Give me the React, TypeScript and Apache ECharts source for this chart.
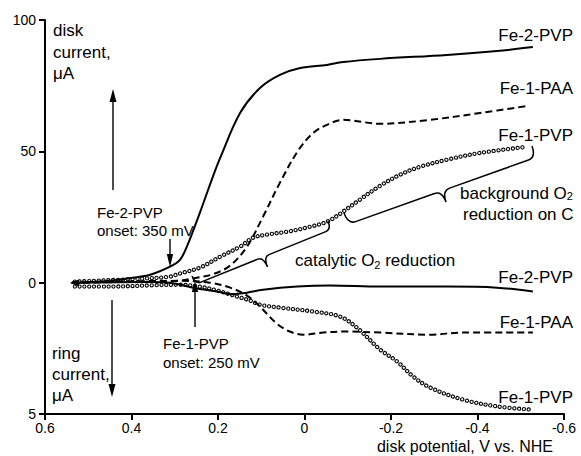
import React, { useEffect, useRef } from "react";
import * as echarts from "echarts";

// ---- Data (potential in V vs. NHE, current in μA) ----
// Disk currents
const fe2pvpDiskV = [0.538, 0.473, 0.397, 0.357, 0.311, 0.288, 0.272, 0.242, 0.212, 0.195, 0.149, 0.103, 0.057, 0.010, -0.052, -0.089, -0.175, -0.329, -0.445, -0.528];
const fe2pvpDiskI = [0, 0.4, 1.9, 3.0, 6.1, 8.7, 13.7, 26.6, 40.3, 47.5, 64.6, 74.1, 79.1, 81.7, 82.9, 84.0, 85.2, 86.7, 88.2, 89.7];

const fe1paaDiskV = [0.538, 0.40, 0.30, 0.249, 0.212, 0.172, 0.133, 0.096, 0.057, 0.015, -0.020, -0.052, -0.089, -0.175, -0.290, -0.406, -0.517];
const fe1paaDiskI = [0, 0.3, 0.6, 1.9, 3.2, 6.5, 13.7, 25.1, 38.0, 50.2, 57.0, 60.1, 62.0, 60.5, 62.0, 64.6, 67.3];

const fe1pvpDiskV = [0.531, 0.380, 0.311, 0.288, 0.242, 0.195, 0.149, 0.119, 0.087, 0.040, -0.013, -0.052, -0.089, -0.128, -0.175, -0.221, -0.267, -0.329, -0.406, -0.514];
const fe1pvpDiskI = [0.4, 1.5, 2.3, 3.5, 5.7, 9.9, 13.7, 17.1, 18.3, 19.4, 21.3, 23.2, 27.0, 31.6, 36.9, 41.1, 44.1, 46.8, 49.4, 51.7];

// Ring currents (μA, plotted downward on the 0..5 μA ring scale)
const fe2pvpRingV = [0.538, 0.357, 0.311, 0.258, 0.202, 0.165, 0.133, 0.096, 0.017, -0.059, -0.175, -0.329, -0.445, -0.528];
const fe2pvpRingI = [0, -0.03, 0, 0.19, 0.34, 0.44, 0.38, 0.27, 0.15, 0.11, 0.15, 0.15, 0.19, 0.34];

const fe1paaRingV = [0.538, 0.281, 0.219, 0.172, 0.133, 0.103, 0.064, 0.034, 0.003, -0.043, -0.098, -0.175, -0.290, -0.366, -0.528];
const fe1paaRingI = [0, -0.07, 0, 0.19, 0.49, 0.91, 1.56, 1.86, 1.98, 1.90, 1.86, 1.90, 1.98, 1.90, 1.90];

const fe1pvpRingV = [0.531, 0.450, 0.350, 0.288, 0.242, 0.202, 0.156, 0.126, 0.103, 0.057, -0.020, -0.082, -0.121, -0.175, -0.214, -0.251, -0.290, -0.366, -0.445, -0.521];
const fe1pvpRingI = [0.15, 0.15, 0.10, 0.08, 0.15, 0.30, 0.53, 0.68, 0.84, 0.95, 1.10, 1.29, 1.71, 2.55, 3.00, 3.57, 3.99, 4.45, 4.71, 4.83];

// Axis ticks
const xTickValues = [0.6, 0.4, 0.2, 0, -0.2, -0.4, -0.6];
const xTickLabels = ["0.6", "0.4", "0.2", "0", "-0.2", "-0.4", "-0.6"];
const yTickValues = [100, 50, 0, -50];
const yTickLabels = ["100", "50", "0", "5"];
const RING_SCALE = -10; // 5 μA ring current sits at the "-50" disk position

const FONT = '"Liberation Sans", Arial, Helvetica, sans-serif';

function pairs(v: number[], i: number[], k = 1) {
  return v.map((x, j) => [x, i[j] * k]);
}

function bracePath(ax: number, ay: number, bx: number, by: number, h: number, D: number, r: number) {
  const dx = bx - ax, dy = by - ay;
  const L = Math.hypot(dx, dy);
  const ux = dx / L, uy = dy / L;
  const nx = -uy, ny = ux;
  const P = (u: number, w: number) => `${(ax + u * ux + w * nx).toFixed(2)} ${(ay + u * uy + w * ny).toFixed(2)}`;
  const m = L / 2;
  return (
    `M ${P(0, 0)} Q ${P(0, h)} ${P(r, h)} L ${P(m - r, h)} Q ${P(m, h)} ${P(m, D)} ` +
    `M ${P(m, D)} Q ${P(m, h)} ${P(m + r, h)} L ${P(L - r, h)} Q ${P(L, h)} ${P(L, 0)}`
  );
}

function vArrow(x: number, tail: number, tip: number, head: number, half: number, lw: number) {
  const s = tip > tail ? 1 : -1;
  return [
    { type: "line", silent: true, z: 10, shape: { x1: x, y1: tail, x2: x, y2: tip - s * head * 0.6 }, style: { stroke: "#000", lineWidth: lw } },
    { type: "polygon", silent: true, z: 10, shape: { points: [[x, tip], [x - half, tip - s * head], [x + half, tip - s * head]] }, style: { fill: "#000" } },
  ];
}

function txt(text: string, x: number, y: number, size: number, align = "left", rich?: any) {
  return {
    type: "text",
    silent: true,
    z: 10,
    x,
    y,
    style: {
      text,
      fill: "#000",
      fontSize: size,
      fontFamily: FONT,
      align,
      textAlign: align,
      verticalAlign: "middle",
      textVerticalAlign: "middle",
      rich,
    },
  };
}

export default function App() {
  const ref = useRef<HTMLDivElement>(null);

  useEffect(() => {
    const el = ref.current!;
    const chart = echarts.init(el, null, { renderer: "svg" });

    const braces = [
      { name: "braceCatalytic", a: [192, 276], b: [328, 221], h: 9, d: 20, r: 6 },
      { name: "braceBackground", a: [344, 213], b: [532, 146], h: 12, d: 24, r: 8 },
    ];
    braces.forEach((b) => {
      echarts.graphic.registerShape(
        b.name,
        echarts.graphic.extendPath(bracePath(b.a[0], b.a[1], b.b[0], b.b[1], b.h, b.d, b.r), {}) as any
      );
    });

    const solid = (name: string, data: number[][]) => ({
      type: "line", name, data, smooth: 0.35, symbol: "none", showSymbol: false, silent: true, z: 3,
      emphasis: { disabled: true },
      lineStyle: { color: "#000", width: 2, join: "round" },
    });
    const dashed = (name: string, data: number[][]) => ({
      type: "line", name, data, smooth: 0.35, symbol: "none", showSymbol: false, silent: true, z: 3,
      emphasis: { disabled: true },
      lineStyle: { color: "#000", width: 2, type: [7, 4] },
    });
    const rings = (name: string, data: number[][]) => [
      {
        type: "line", name, data, smooth: 0.35, symbol: "none", showSymbol: false, silent: true, z: 2,
        emphasis: { disabled: true },
        lineStyle: { color: "#000", width: 4.3, type: [0.01, 4.8], cap: "round" },
      },
      {
        type: "line", name, data, smooth: 0.35, symbol: "none", showSymbol: false, silent: true, z: 2,
        emphasis: { disabled: true },
        lineStyle: { color: "#fff", width: 2.1, type: [0.01, 4.8], cap: "round" },
      },
    ];

    const rich = { sub: { fontSize: 11, fontFamily: FONT, fill: "#000", color: "#000", padding: [9, 0, 0, 0] } };
    const richSmall = { sub: { fontSize: 11, fontFamily: FONT, fill: "#000", color: "#000", padding: [6, 0, 0, 0] } };

    const graphics: any[] = [
      ...vArrow(113, 190, 89, 13, 3.5, 1.4),
      ...vArrow(112, 300, 397, 13, 3.5, 1.4),
      ...vArrow(170, 239, 267, 13, 3.2, 1.4),
      ...vArrow(195, 327, 281, 11, 3.2, 1.4),
      { type: "polygon", silent: true, z: 10, shape: { points: [[70, 283], [79, 279.5], [79, 286.5]] }, style: { fill: "#000" } },
      ...braces.map((b) => ({ type: b.name, silent: true, z: 9, style: { stroke: "#000", fill: "none", lineWidth: 1.5 } })),
      txt("disk", 53, 30, 17),
      txt("current,", 53, 52, 17),
      txt("μA", 53, 73, 17),
      txt("ring", 52, 353, 17),
      txt("current,", 52, 374, 17),
      txt("μA", 52, 395, 17),
      txt("Fe-2-PVP", 97, 212, 15),
      txt("onset: 350 mV", 97, 230, 15),
      txt("Fe-1-PVP", 163, 343, 15),
      txt("onset: 250 mV", 163, 362, 15),
      txt("Fe-2-PVP", 573, 35, 17, "right"),
      txt("Fe-1-PAA", 573, 88, 17, "right"),
      txt("Fe-1-PVP", 573, 135, 17, "right"),
      txt("Fe-2-PVP", 573, 277, 17, "right"),
      txt("Fe-1-PAA", 573, 322, 17, "right"),
      txt("Fe-1-PVP", 573, 397, 17, "right"),
      txt("catalytic O{sub|2} reduction", 295, 260, 17, "left", rich),
      txt("background O{sub|2}", 460, 193, 17, "left", richSmall),
      txt("reduction on C", 463, 214, 17),
      txt("disk potential, V vs. NHE", 553, 446.7, 16, "right"),
    ];

    chart.setOption({
      animation: false,
      backgroundColor: "#fff",
      grid: { left: 45, right: 17, top: 20, bottom: 42 },
      xAxis: {
        type: "value",
        min: -0.6,
        max: 0.6,
        interval: 0.2,
        inverse: true,
        axisLine: { onZero: false, lineStyle: { color: "#000", width: 2 } },
        axisTick: { show: true, inside: false, length: 6, lineStyle: { color: "#000", width: 2 } },
        axisLabel: {
          color: "#000",
          fontSize: 14,
          fontFamily: FONT,
          margin: 7,
          formatter: (v: number) => {
            const idx = xTickValues.findIndex((t) => Math.abs(t - v) < 1e-6);
            return idx >= 0 ? xTickLabels[idx] : "";
          },
        },
        splitLine: { show: false },
      },
      yAxis: {
        type: "value",
        min: -50,
        max: 100,
        interval: 50,
        axisLine: { show: true, onZero: false, lineStyle: { color: "#000", width: 2 } },
        axisTick: { show: true, inside: false, length: 6, lineStyle: { color: "#000", width: 2 } },
        axisLabel: {
          color: "#000",
          fontSize: 14,
          fontFamily: FONT,
          margin: 9,
          formatter: (v: number) => {
            const idx = yTickValues.findIndex((t) => Math.abs(t - v) < 1e-6);
            return idx >= 0 ? yTickLabels[idx] : "";
          },
        },
        splitLine: { show: false },
      },
      series: [
        ...rings("Fe-1-PVP disk", pairs(fe1pvpDiskV, fe1pvpDiskI)),
        ...rings("Fe-1-PVP ring", pairs(fe1pvpRingV, fe1pvpRingI, RING_SCALE)),
        solid("Fe-2-PVP disk", pairs(fe2pvpDiskV, fe2pvpDiskI)),
        solid("Fe-2-PVP ring", pairs(fe2pvpRingV, fe2pvpRingI, RING_SCALE)),
        dashed("Fe-1-PAA disk", pairs(fe1paaDiskV, fe1paaDiskI)),
        dashed("Fe-1-PAA ring", pairs(fe1paaRingV, fe1paaRingI, RING_SCALE)),
      ],
      graphic: graphics,
    });

    return () => {
      chart.dispose();
    };
  }, []);

  return (
    <div
      ref={ref}
      style={{ position: "fixed", left: 0, top: 0, width: 581, height: 456, background: "#fff" }}
    />
  );
}
